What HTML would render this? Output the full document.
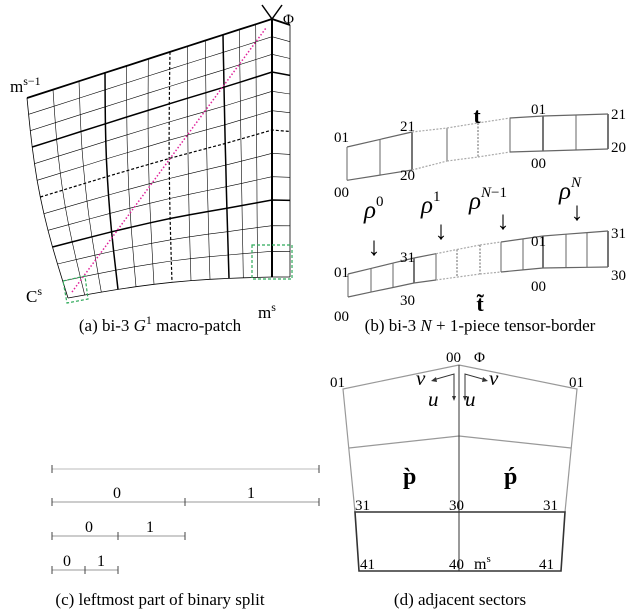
<!DOCTYPE html>
<html><head><meta charset="utf-8"><style>
html,body{margin:0;padding:0;background:#fff;}
svg{display:block;}
text{font-family:"Liberation Serif",serif;fill:#000;}
</style></head><body>
<svg id="s" width="638" height="614" viewBox="0 0 638 614" xmlns="http://www.w3.org/2000/svg">
<g id="ga" fill="none" stroke="#000"></g>
<g id="gb" fill="none" stroke="#666"></g>
<!-- panel a decorations -->
<line x1="72" y1="292" x2="266" y2="28" stroke="#e0219a" stroke-width="1.5" stroke-dasharray="1.5,2"/>
<polygon points="63,281 85,276 88,299 67,303" fill="none" stroke="#2faa5a" stroke-width="1.2" stroke-dasharray="3,2"/>
<rect x="252" y="245" width="40" height="34" fill="none" stroke="#2faa5a" stroke-width="1.2" stroke-dasharray="3,2"/>
<path d="M262,5 L272,19 L282,5" fill="none" stroke="#000" stroke-width="1.5"/>
<text x="283" y="24" font-size="15">Φ</text>
<text x="10" y="92" font-size="17">m<tspan font-size="12" dy="-7">s−1</tspan></text>
<text x="26" y="302" font-size="17">C<tspan font-size="12" dy="-7">s</tspan></text>
<text x="258" y="318" font-size="17">m<tspan font-size="12" dy="-7">s</tspan></text>
<text x="160" y="331" font-size="17" text-anchor="middle">(a)  bi-3 <tspan font-style="italic">G</tspan><tspan font-size="12" dy="-7">1</tspan><tspan dy="7">  macro-patch</tspan></text>
<!-- panel b labels -->
<g font-size="15">
<text x="334" y="142">01</text><text x="334" y="197">00</text>
<text x="400" y="131">21</text><text x="400" y="180">20</text>
<text x="531" y="114">01</text><text x="531" y="168">00</text>
<text x="611" y="119">21</text><text x="611" y="152">20</text>
<text x="334" y="277">01</text><text x="334" y="321">00</text>
<text x="400" y="262">31</text><text x="400" y="305">30</text>
<text x="531" y="246">01</text><text x="531" y="291">00</text>
<text x="611" y="238">31</text><text x="611" y="280">30</text>
</g>
<text x="477" y="123" font-size="22" font-weight="bold" text-anchor="middle">t</text>
<text x="480" y="311" font-size="22" font-weight="bold" text-anchor="middle">t̃</text>
<g font-size="25" font-style="italic">
<text x="364" y="218">ρ<tspan font-size="15" font-style="normal" dy="-12">0</tspan></text>
<text x="421" y="213">ρ<tspan font-size="15" font-style="normal" dy="-12">1</tspan></text>
<text x="469" y="209">ρ<tspan font-size="15" dy="-12">N</tspan><tspan font-size="15" font-style="normal">−1</tspan></text>
<text x="559" y="199">ρ<tspan font-size="15" dy="-12">N</tspan></text>
</g>
<g font-size="26" text-anchor="middle">
<text x="374" y="255">↓</text><text x="441" y="239">↓</text><text x="503" y="229">↓</text><text x="577" y="220">↓</text>
</g>
<text x="480" y="331" font-size="17" text-anchor="middle">(b)  bi-3 <tspan font-style="italic">N</tspan> + 1-piece tensor-border</text>
<!-- panel c -->
<g stroke="#999" stroke-width="1">
<line x1="52" y1="469" x2="319" y2="469" stroke="#bbb"/>
<line x1="52" y1="502" x2="319" y2="502"/>
<line x1="52" y1="536" x2="185" y2="536"/>
<line x1="52" y1="570" x2="118" y2="570"/>
</g>
<g stroke="#444" stroke-width="1">
<line x1="52" y1="465" x2="52" y2="473"/><line x1="319" y1="465" x2="319" y2="473"/>
<line x1="52" y1="498" x2="52" y2="506"/><line x1="185" y1="498" x2="185" y2="506"/><line x1="319" y1="498" x2="319" y2="506"/>
<line x1="52" y1="532" x2="52" y2="540"/><line x1="118" y1="532" x2="118" y2="540"/><line x1="185" y1="532" x2="185" y2="540"/>
<line x1="52" y1="566" x2="52" y2="574"/><line x1="85" y1="566" x2="85" y2="574"/><line x1="118" y1="566" x2="118" y2="574"/>
</g>
<g font-size="16" text-anchor="middle">
<text x="117" y="498">0</text><text x="251" y="498">1</text>
<text x="89" y="532">0</text><text x="150" y="532">1</text>
<text x="67" y="566">0</text><text x="101" y="566">1</text>
</g>
<text x="160" y="605" font-size="17" text-anchor="middle">(c)  leftmost part of binary split</text>
<!-- panel d -->
<g fill="none" stroke="#999" stroke-width="1.2">
<polyline points="355,512 343,389 459,365 577,389 565,512"/>
<polyline points="349,448 459,436 571,448"/>
</g>
<line x1="459" y1="365" x2="459" y2="571" stroke="#333" stroke-width="1"/>
<polygon points="355,512 565,512 561,571 359,571" fill="none" stroke="#333" stroke-width="1.6"/>
<g stroke="#333" stroke-width="1" fill="none">
<polyline points="433,380 454,374 454,398"/>
<polyline points="486,380 465,374 465,398"/>
</g>
<g fill="#333">
<polygon points="431,381 436,377 437,382"/><polygon points="488,381 483,377 482,382"/>
<polygon points="452,396 456,396 454,401"/><polygon points="463,396 467,396 465,401"/>
</g>
<g font-size="15">
<text x="446" y="362">00</text><text x="474" y="362">Φ</text>
<text x="330" y="387">01</text><text x="569" y="387">01</text>
<text x="355" y="510">31</text><text x="449" y="510">30</text><text x="543" y="510">31</text>
<text x="360" y="569">41</text><text x="449" y="569">40</text><text x="539" y="569">41</text>
<text x="474" y="569" font-size="16">m<tspan font-size="11" dy="-7">s</tspan></text>
</g>
<g font-size="21" font-style="italic">
<text x="416" y="385">v</text><text x="489" y="385">v</text>
<text x="428" y="406">u</text><text x="465" y="406">u</text>
</g>
<text x="403" y="484" font-size="24" font-weight="bold">p̀</text>
<text x="504" y="484" font-size="24" font-weight="bold">ṕ</text>
<text x="460" y="605" font-size="17" text-anchor="middle">(d)  adjacent sectors</text>
</svg>
<script>
(function(){
var NS="http://www.w3.org/2000/svg";
function pl(g,pts,w,dash,col){var p=document.createElementNS(NS,"polyline");p.setAttribute("points",pts.map(function(q){return q[0].toFixed(1)+","+q[1].toFixed(1)}).join(" "));p.setAttribute("stroke-width",w);if(dash)p.setAttribute("stroke-dasharray",dash);if(col)p.setAttribute("stroke",col);g.appendChild(p);}
function interp(keys,t){var n=keys.length-1,s=t*n,i=Math.min(Math.floor(s),n-1),f=s-i;return keys[i]+(keys[i+1]-keys[i])*f;}
var ga=document.getElementById("ga");
var topX=[27,105,170,223,272], botX=[68,118,172,229,272];
var leftY=[98,147,197,247,298], rightY=[19,72,130,200,277];
var N=12;
function P(i,j){
 var u=i/N,v=j/N;
 var tx=interp(topX,u), ty=98+(tx-27)*(19-98)/245;
 var bx=interp(botX,u), bu=(bx-68)/204, by=298+(bx-68)*(277-298)/204-5*Math.sin(Math.PI*bu);
 var yl=interp(leftY,v), yr=interp(rightY,v);
 var vl=(yl-98)/200, vr=(yr-19)/258;
 var vv=vl+(vr-vl)*u;
 var x=tx+(bx-tx)*vv, y=ty+(by-ty)*vv;
 x-=7*Math.sin(Math.PI*vv)*(1-u)*(1-u);
 return [x,y];
}
function E(j){var p=P(N,j);var v=j/N;return [290,p[1]+6*(1-v)*(1-v)];}
function style(k){
 if(k===3||k===9) return [1.5,null];
 if(k===6) return [1.2,"3,2"];
 return [0.6,null];
}
for(var j=0;j<=N;j++){var pts=[];for(var i=0;i<=N;i++)pts.push(P(i,j));pts.push(E(j));
 var w,d=null;
 if(j===0)w=1.8;else if(j===N)w=0.8;else{var s=style(j);w=s[0];d=s[1];}
 pl(ga,pts,w,d);}
for(var i=0;i<=N;i++){var pts=[];for(var j=0;j<=N;j++)pts.push(P(i,j));
 var w,d=null;if(i===0)w=0.8;else if(i===N)w=2;else{var s=style(i);w=s[0];d=s[1];}
 pl(ga,pts,w,d);}
var ep=[];for(var j=0;j<=N;j++)ep.push(E(j));pl(ga,ep,0.8);
var gb=document.getElementById("gb");
function strip(xs,tk,bk,bold,dashV,dashEdge){
 function f(kk,x){for(var k=0;k<kk.length-1;k++){if(x<=kk[k+1][0]){var t=(x-kk[k][0])/(kk[k+1][0]-kk[k][0]);return kk[k][1]+(kk[k+1][1]-kk[k][1])*t;}}return kk[kk.length-1][1];}
 for(var k=0;k<xs.length;k++){var x=xs[k];var w=bold.indexOf(k)>=0?1.8:1;var d=dashV.indexOf(k)>=0?"2,1.5":null;pl(gb,[[x,f(tk,x)],[x,f(bk,x)]],w,d);}
 for(var k=0;k<xs.length-1;k++){var a=xs[k],b=xs[k+1];var d=(a>=dashEdge[0]&&b<=dashEdge[1])?"2,1.5":null;var col=d?"#aaa":null;pl(gb,[[a,f(tk,a)],[b,f(tk,b)]],1.2,d,col);pl(gb,[[a,f(bk,a)],[b,f(bk,b)]],1.2,d,col);}
}
strip([347,380,412,447,478,510,543,576,608],
 [[347,147],[412,132],[447,128],[478,123],[510,118],[543,116],[576,115],[608,114]],
 [[349,180],[412,170],[447,161],[478,157],[510,152],[543,151],[576,150],[608,149]],
 [2,6,8],[4],[412,510]);
strip([348,371,393,414,436,457,480,501,523,543,566,587,608],
 [[348,274],[414,258],[480,245],[543,236],[608,231]],
 [[348,297],[414,283],[480,274],[543,268],[608,267]],
 [3,9,12],[5,6],[436,501]);
})();
</script>
</body></html>
